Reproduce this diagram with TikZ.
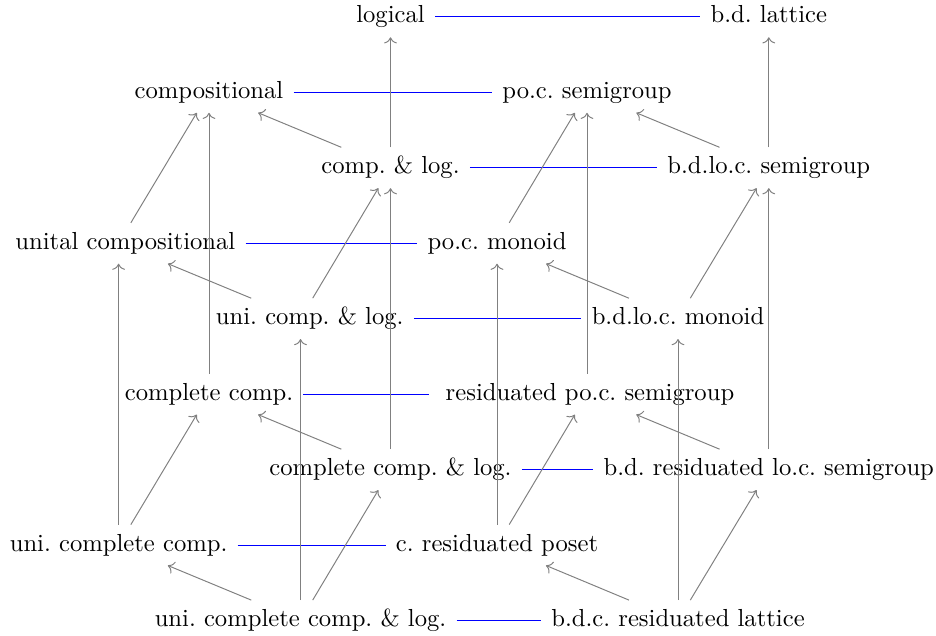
\documentclass[tikz,border=0pt]{standalone}
\usepackage{tikz}
\usetikzlibrary{arrows.meta}
\definecolor{ArrowGray}{RGB}{128,128,128}
\definecolor{PairBlue}{RGB}{0,0,255}
\frenchspacing

\begin{document}
\begin{tikzpicture}[x=0.406pt, y=-0.406pt,
    cell/.style={anchor=base, inner xsep=4pt, inner ysep=3.66pt, text height=6.94pt, text depth=1.94pt},
    padleft/.style={execute at begin node={\hspace*{#1}}},
    up/.style={ArrowGray, line width=0.4pt, -{To}},
    pair/.style={PairBlue, line width=0.4pt}]
    \useasboundingbox (0,0) rectangle (936,635);
    % back face
    \node[cell] (lg) at (390.5,23) {logical};
    \node[cell] (bdl) at (768.8,23) {b.d. lattice};
    \node[cell] (cp) at (209,98.5) {compositional};
    \node[cell] (pocs) at (587,98.5) {po.c. semigroup};
    \node[cell] (cl) at (390.5,173.9) {comp. \& log.};
    \node[cell] (bdlocs) at (768.8,173.9) {b.d.lo.c. semigroup};
    \node[cell, padleft=5.5pt] (uc) at (118.6,249.4) {unital compositional};
    \node[cell] (pocm) at (497,249.4) {po.c. monoid};
    \node[cell, padleft=7.5pt] (ucl) at (300.5,324.8) {uni. comp. \& log.};
    \node[cell] (bdlocm) at (678,324.8) {b.d.lo.c. monoid};
    % front face
    \node[cell] (cc) at (209,400.3) {complete comp.};
    \node[cell, padleft=2.4pt] (rpocs) at (587,400.3) {residuated po.c. semigroup};
    \node[cell] (ccl) at (390.5,475.8) {complete comp. \& log.};
    \node[cell] (bdrlocs) at (768.8,475.8) {b.d. residuated lo.c. semigroup};
    \node[cell] (ucc) at (118.6,551.2) {uni. complete comp.};
    \node[cell] (crp) at (497,551.2) {c. residuated poset};
    \node[cell] (uccl) at (300.5,626.7) {uni. complete comp. \& log.};
    \node[cell] (bdcrl) at (678,626.7) {b.d.c. residuated lattice};
    % pairs
    \foreach \a/\b in {lg/bdl, cp/pocs, cl/bdlocs, uc/pocm, ucl/bdlocm,
                       cc/rpocs, ccl/bdrlocs, ucc/crp, uccl/bdcrl} {
        \draw[pair] (\a) -- (\b);
    }
    % straight up
    \foreach \a/\b in {cl/lg, bdlocs/bdl, cc/cp, rpocs/pocs, ccl/cl, bdrlocs/bdlocs,
                       ucc/uc, crp/pocm, uccl/ucl, bdcrl/bdlocm} {
        \draw[up] (\a) -- (\b);
    }
    % up and right
    \foreach \a/\b in {uc/cp, ucl/cl, pocm/pocs, bdlocm/bdlocs,
                       ucc/cc, uccl/ccl, crp/rpocs, bdcrl/bdrlocs} {
        \draw[up] (\a) -- (\b);
    }
    % up and left
    \foreach \a/\b in {cl/cp, bdlocs/pocs, ucl/uc, bdlocm/pocm,
                       ccl/cc, bdrlocs/rpocs, uccl/ucc, bdcrl/crp} {
        \draw[up] (\a) -- (\b);
    }
\end{tikzpicture}
\end{document}
